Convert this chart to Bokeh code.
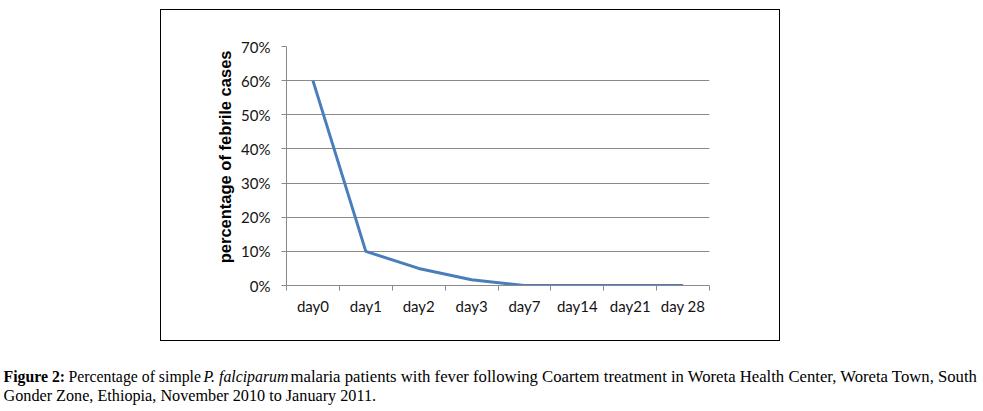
import numpy as np
from bokeh.plotting import figure
from bokeh.layouts import column, row
from bokeh.models import Range1d, FixedTicker, NumeralTickFormatter, Label, Spacer, Title
from bokeh.embed import file_html
from bokeh.resources import INLINE

days = ["day0", "day1", "day2", "day3", "day7", "day14", "day21", "day 28"]
febrile_pct = [0.60, 0.10, 0.05, 0.017, 0.0, 0.0, 0.0, 0.0]
y_ticks = [0.0, 0.1, 0.2, 0.3, 0.4, 0.5, 0.6, 0.7]
y_title = "percentage of febrile cases"
caption_segments = [
    ("Figure 2:", "bold"),
    ("Percentage of simple", "normal"),
    ("P. falciparum", "italic"),
    ("malaria patients with fever following Coartem treatment in Woreta Health Center, Woreta Town, South", "normal"),
    ("Gonder Zone, Ethiopia, November 2010 to January 2011.", "normal"),
]

x_pos = np.arange(len(days)) + 0.5

BOX_L, BOX_T, BOX_W, BOX_H = 160, 9, 620, 332
p = figure(width=BOX_W, height=BOX_H, output_backend="svg", toolbar_location=None,
           x_range=Range1d(0, len(days)), y_range=Range1d(y_ticks[0], y_ticks[-1]),
           min_border_left=125, min_border_right=72, min_border_top=36, min_border_bottom=57,
           styles={"border": "1.3px solid black"})
p.outline_line_color = None
p.background_fill_color = "white"
p.border_fill_color = "white"

p.line(x_pos, febrile_pct, line_color="#4A7EBB", line_width=3, line_join="round")

GRAY = "#8a8a8a"
TICK_FONT = "Lato"
TICK_SIZE = "15px"
TICK_COLOR = "#141414"
# x axis
xa = p.xaxis[0]
xa.ticker = FixedTicker(ticks=list(x_pos), minor_ticks=list(range(len(days) + 1)))
xa.major_label_overrides = {float(v): d for v, d in zip(x_pos, days)}
xa.major_tick_line_color = None
xa.major_tick_in = 0
xa.major_tick_out = 5
xa.minor_tick_line_color = GRAY
xa.minor_tick_in = 0
xa.minor_tick_out = 5
xa.axis_line_color = GRAY
xa.major_label_standoff = 6
xa.major_label_text_font = TICK_FONT
xa.major_label_text_font_size = TICK_SIZE
xa.major_label_text_color = TICK_COLOR
p.xgrid.grid_line_color = None

# y axis
ya = p.yaxis[0]
ya.ticker = FixedTicker(ticks=y_ticks)
ya.formatter = NumeralTickFormatter(format="0%")
ya.major_tick_line_color = GRAY
ya.major_tick_in = 0
ya.major_tick_out = 5
ya.minor_tick_line_color = None
ya.axis_line_color = GRAY
ya.major_label_standoff = 11
ya.major_label_text_font = TICK_FONT
ya.major_label_text_font_size = TICK_SIZE
ya.major_label_text_color = TICK_COLOR
p.ygrid.ticker = FixedTicker(ticks=y_ticks)
p.ygrid.grid_line_color = GRAY
p.ygrid.grid_line_width = 1

p.add_layout(Title(text=y_title, align="right", offset=4, standoff=9,
                   text_font="Liberation Sans", text_font_style="bold",
                   text_font_size="16.5px", text_color="black"), "left")

# caption figure (frame covers whole canvas, pixel coordinates)
CAP_W, CAP_H = 983, 68
cap = figure(width=CAP_W, height=CAP_H, output_backend="svg", toolbar_location=None,
             x_range=Range1d(0, CAP_W), y_range=Range1d(CAP_H, 0),
             x_axis_location=None, y_axis_location=None, min_border=0)
cap.outline_line_color = None
cap.grid.grid_line_color = None
cap.background_fill_color = "white"
cap.border_fill_color = "white"
cap.line([0, 1], [0, 0], line_alpha=0)

CAP_FONT = "Liberation Serif"
L1, L2 = 35, 54.5
seg_pos = [(3, L1), (68, L1), (203, L1), (290, L1), (3, L2)]
seg_size = ["15.8px", "15.8px", "15.8px", "16.7px", "16.2px"]
for (sx, sy), fs, (t, st) in zip(seg_pos, seg_size, caption_segments):
    cap.add_layout(Label(x=sx, y=sy, text=t, text_align="left", text_baseline="alphabetic",
                         text_font=CAP_FONT, text_font_style=st,
                         text_font_size=fs, text_color="black"))

layout = column(Spacer(height=BOX_T),
                row(Spacer(width=BOX_L), p),
                cap)
open("out.html", "w").write(file_html(layout, INLINE))
